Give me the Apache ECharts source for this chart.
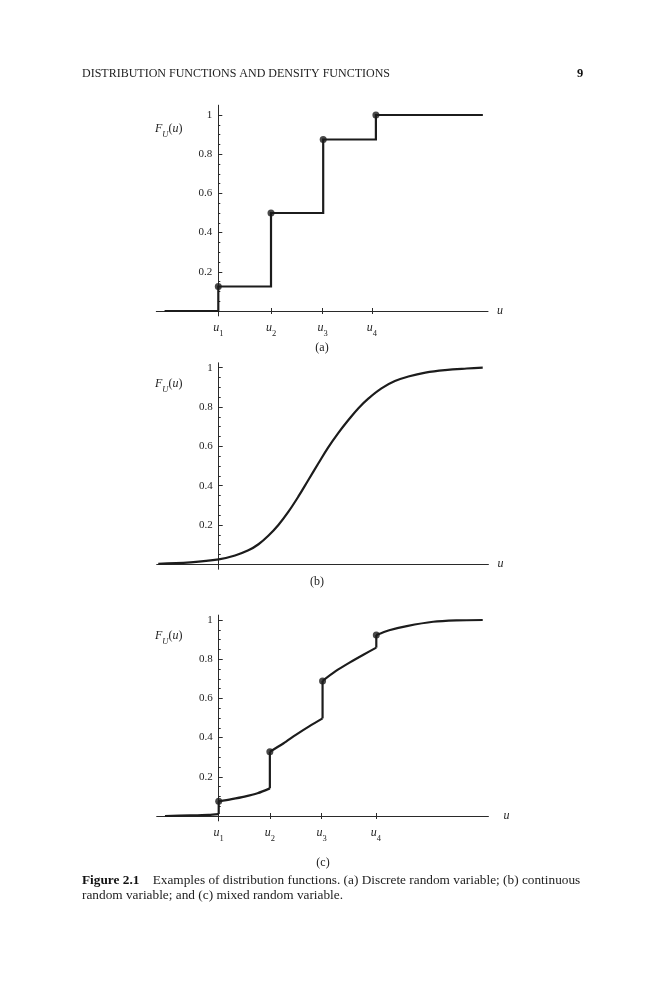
<!DOCTYPE html>
<html>
<head>
<meta charset="utf-8">
<script src="https://cdn.jsdelivr.net/npm/echarts/dist/echarts.min.js"></script>
<style>
html,body{margin:0;padding:0;background:#fff;}
#chart{width:662px;height:1000px;}
</style>
</head>
<body>
<div id="chart"></div>
<script>
// ---------- data ----------
// panel (a): discrete CDF (step points, jump at start of each level)
const aSteps = [[-1.04, 0], [0, 0.125], [1.02, 0.5], [2.03, 0.875], [3.05, 1], [5.12, 1]];
const aJumpX = [0, 1.02, 2.03, 3.05];
const aJumpY = [0.125, 0.5, 0.875, 1];
const aTickX = [0, 1.02, 2.02, 2.97];

// panel (b): continuous CDF
const bCurve = [[-1.17, 0.003], [-0.55, 0.01], [0, 0.025], [0.316, 0.045], [0.574, 0.071], [0.77, 0.102],
  [0.96, 0.145], [1.155, 0.20], [1.35, 0.268], [1.54, 0.344], [1.735, 0.429], [1.93, 0.514],
  [2.12, 0.595], [2.32, 0.67], [2.51, 0.734], [2.70, 0.793], [2.90, 0.844], [3.15, 0.895],
  [3.41, 0.932], [3.67, 0.955], [4.0, 0.975], [4.38, 0.988], [4.8, 0.996], [5.11, 1.0]];

// panel (c): mixed CDF, continuous pieces between jumps
const cSeg0 = [[-1.04, 0], [-0.55, 0.003], [-0.2, 0.006], [0, 0.01]];
const cSeg1 = [[0, 0.075], [0.25, 0.086], [0.5, 0.099], [0.75, 0.116], [0.99, 0.141]];
const cSeg2 = [[0.99, 0.328], [1.25, 0.37], [1.5, 0.415], [1.75, 0.457], [2.01, 0.498]];
const cSeg3 = [[2.01, 0.689], [2.27, 0.74], [2.54, 0.784], [2.8, 0.823], [3.05, 0.859]];
const cSeg4 = [[3.05, 0.923], [3.3, 0.948], [3.64, 0.969], [4.15, 0.991], [4.6, 0.998], [5.11, 1.0]];
const cTickX = [0, 0.99, 1.99, 3.04];

const uLabels = ['1', '2', '3', '4'];
const yLabelVals = [0.2, 0.4, 0.6, 0.8, 1];
const yLabelText = ['0.2', '0.4', '0.6', '0.8', '1'];
const yMajorTicks = [0, 0.2, 0.4, 0.6, 0.8, 1];
const yMinorTicks = [0.05, 0.1, 0.15, 0.25, 0.3, 0.35, 0.45, 0.5, 0.55, 0.65, 0.7, 0.75, 0.85, 0.9, 0.95];

// ---------- styling ----------
const SERIF = "'Liberation Serif', 'DejaVu Serif', serif";
const INK = '#1c1c1c';
const AXIS = '#2a2a2a';

const panels = [
  { left: 156.3, top: 105.2, yMax: 1.05, yUnit: 196, ticks: aTickX, nameGap: 9 },
  { left: 156.7, top: 362.8, yMax: 1.025, yUnit: 196.6, ticks: null, nameGap: 9 },
  { left: 156.7, top: 615.1, yMax: 1.025, yUnit: 196, ticks: cTickX, nameGap: 15 }
];
const X_MIN = -1.2, X_MAX = 5.22, X_UNIT = 51.67, Y_MIN = -0.025;
const Y_OFF = X_MIN * X_UNIT;      // negative: pull y axis in to x = 0

const grids = [], xAxes = [], yAxes = [];
panels.forEach((p, i) => {
  grids.push({
    left: p.left, top: p.top,
    width: (X_MAX - X_MIN) * X_UNIT,
    height: (p.yMax - Y_MIN) * p.yUnit,
    containLabel: false, show: false
  });
  const X_OFF = Y_MIN * p.yUnit;  // negative: pull x axis up to y = 0
  const hasT = !!p.ticks;
  xAxes.push({
    gridIndex: i, type: 'value', min: X_MIN, max: X_MAX, position: 'bottom', offset: X_OFF,
    axisLine: { show: true, onZero: false, lineStyle: { color: AXIS, width: 1 } },
    axisTick: { show: hasT, customValues: hasT ? p.ticks : [], length: 3, inside: false, lineStyle: { color: AXIS, width: 1 } },
    axisLabel: {
      show: hasT, customValues: hasT ? p.ticks : [], margin: 11,
      formatter: function (v) {
        const k = p.ticks ? p.ticks.findIndex(t => Math.abs(t - v) < 1e-6) : -1;
        return k >= 0 ? '{u|u}{s|' + uLabels[k] + '}' : '';
      },
      rich: {
        u: { fontFamily: SERIF, fontStyle: 'italic', fontSize: 12, color: INK, lineHeight: 16, verticalAlign: 'top' },
        s: { fontFamily: SERIF, fontSize: 8.5, color: INK, lineHeight: 8, verticalAlign: 'bottom' }
      }
    },
    splitLine: { show: false },
    name: 'u', nameLocation: 'end', nameGap: p.nameGap,
    nameTextStyle: { fontFamily: SERIF, fontStyle: 'italic', fontSize: 12, color: INK }
  });
  xAxes.push({
    gridIndex: i, type: 'value', min: X_MIN, max: X_MAX, position: 'bottom', offset: X_OFF,
    axisLine: { show: false, onZero: false },
    axisTick: { show: hasT, customValues: hasT ? p.ticks : [], length: 3, inside: true, lineStyle: { color: AXIS, width: 1 } },
    axisLabel: { show: false },
    splitLine: { show: false }
  });
  yAxes.push({
    gridIndex: i, type: 'value', min: Y_MIN, max: p.yMax, position: 'left', offset: Y_OFF,
    axisLine: { show: true, onZero: false, lineStyle: { color: AXIS, width: 1 } },
    axisTick: { show: true, customValues: yMajorTicks, inside: true, length: 4, lineStyle: { color: AXIS, width: 1 } },
    axisLabel: {
      customValues: yLabelVals, margin: 6, fontFamily: SERIF, fontSize: 11, color: INK,
      formatter: function (v) {
        const k = yLabelVals.findIndex(t => Math.abs(t - v) < 1e-6);
        return k >= 0 ? yLabelText[k] : '';
      }
    },
    splitLine: { show: false }
  });
  yAxes.push({
    gridIndex: i, type: 'value', min: Y_MIN, max: p.yMax, position: 'left', offset: Y_OFF,
    axisLine: { show: false, onZero: false },
    axisTick: { show: true, customValues: yMinorTicks, inside: true, length: 2, lineStyle: { color: AXIS, width: 1 } },
    axisLabel: { show: false },
    splitLine: { show: false }
  });
});

const lineStyle = { color: INK, width: 2.2, cap: 'butt', join: 'miter' };
const series = [];
function lineSeries(grid, data, extra) {
  return Object.assign({
    type: 'line', xAxisIndex: 2 * grid, yAxisIndex: 2 * grid, data: data,
    showSymbol: false, symbol: 'none', lineStyle: lineStyle, silent: true, animation: false, z: 3
  }, extra || {});
}
function dotSeries(grid, data) {
  return {
    type: 'scatter', xAxisIndex: 2 * grid, yAxisIndex: 2 * grid, data: data,
    symbol: 'circle', symbolSize: 7, itemStyle: { color: INK }, silent: true, animation: false, z: 4
  };
}

// (a)
series.push(lineSeries(0, aSteps, { step: 'end' }));
series.push(dotSeries(0, aJumpX.map((x, k) => [x, aJumpY[k]])));
// (b)
series.push(lineSeries(1, bCurve, { smooth: 0.4 }));
// (c)
const cSegs = [cSeg0, cSeg1, cSeg2, cSeg3, cSeg4];
cSegs.forEach((seg, k) => {
  series.push(lineSeries(2, seg, { smooth: 0.3 }));
  if (k > 0) {
    const prev = cSegs[k - 1];
    series.push(lineSeries(2, [prev[prev.length - 1], seg[0]]));
  }
});
series.push(dotSeries(2, cSegs.slice(1).map(s => s[0])));

const fRich = {
  i: { fontFamily: SERIF, fontStyle: 'italic', fontSize: 12, fill: INK, lineHeight: 16, verticalAlign: 'top' },
  n: { fontFamily: SERIF, fontSize: 12, fill: INK, lineHeight: 16, verticalAlign: 'top' },
  sub: { fontFamily: SERIF, fontStyle: 'italic', fontSize: 8.5, fill: INK, lineHeight: 8, verticalAlign: 'bottom' }
};
function fLabel(y) {
  return {
    type: 'text', x: 155, y: y, silent: true,
    style: { text: '{i|F}{sub|U}{n|(}{i|u}{n|)}', rich: fRich, textVerticalAlign: 'middle', textAlign: 'left' }
  };
}
function panelTag(t, x, y) {
  return {
    type: 'text', x: x, y: y, silent: true,
    style: { text: t, fontFamily: SERIF, fontSize: 12, fill: INK, textAlign: 'center', textVerticalAlign: 'middle' }
  };
}

const graphics = [
  { type: 'text', x: 82, y: 74, silent: true,
    style: { text: 'DISTRIBUTION FUNCTIONS AND DENSITY FUNCTIONS', fontFamily: SERIF, fontSize: 12, fill: '#222', textAlign: 'left', textVerticalAlign: 'middle' } },
  { type: 'text', x: 580, y: 74, silent: true,
    style: { text: '9', fontFamily: SERIF, fontWeight: 'bold', fontSize: 12.5, fill: '#111', textAlign: 'center', textVerticalAlign: 'middle' } },
  fLabel(131), fLabel(386), fLabel(638),
  panelTag('(a)', 322, 348), panelTag('(b)', 317, 582), panelTag('(c)', 323, 863),
  { type: 'text', x: 82, y: 881, silent: true,
    style: {
      text: '{b|Figure 2.1}{n|    Examples of distribution functions. (a) Discrete random variable; (b) continuous}',
      rich: {
        b: { fontFamily: SERIF, fontWeight: 'bold', fontSize: 13.3, fill: '#111' },
        n: { fontFamily: SERIF, fontSize: 13.3, fill: '#222' }
      },
      textAlign: 'left', textVerticalAlign: 'middle'
    } },
  { type: 'text', x: 82, y: 896, silent: true,
    style: { text: 'random variable; and (c) mixed random variable.', fontFamily: SERIF, fontSize: 13.3, fill: '#222', textAlign: 'left', textVerticalAlign: 'middle' } }
];

const chart = echarts.init(document.getElementById('chart'), null, { renderer: 'canvas' });
chart.setOption({
  animation: false,
  backgroundColor: '#ffffff',
  grid: grids,
  xAxis: xAxes,
  yAxis: yAxes,
  series: series,
  graphic: graphics
});
</script>
</body>
</html>
